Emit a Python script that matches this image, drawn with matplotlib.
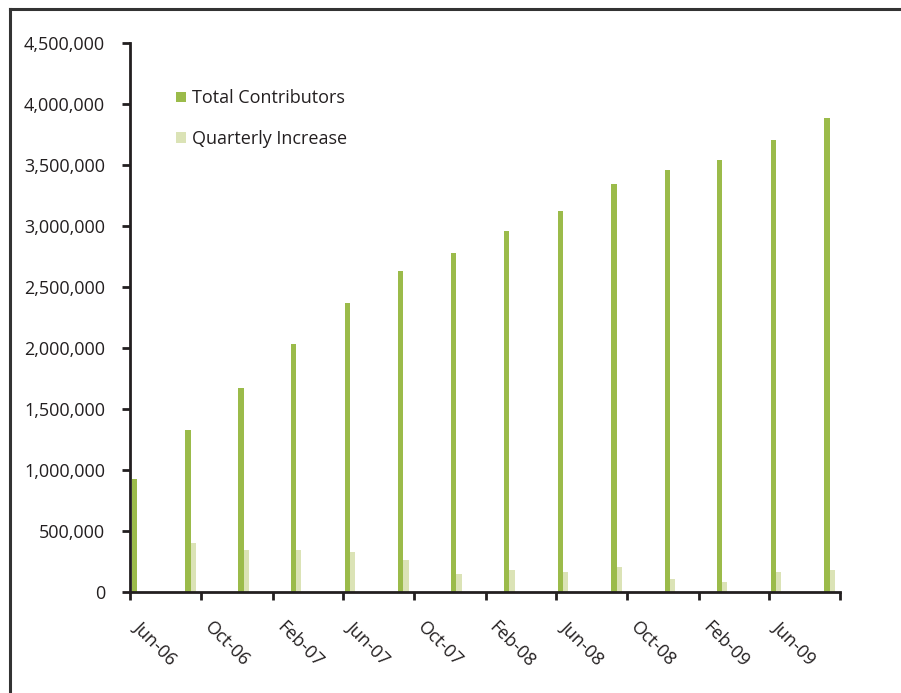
import datetime as dt
import matplotlib
matplotlib.use("Agg")
import matplotlib.pyplot as plt
import matplotlib.dates as mdates
from matplotlib.lines import Line2D
from matplotlib.ticker import FuncFormatter
from matplotlib.transforms import ScaledTranslation

plt.rcParams['font.family'] = ['Open Sans', 'DejaVu Sans']

# quarterly data points (year, month)
quarters = [(2006, 6), (2006, 9), (2006, 12), (2007, 3), (2007, 6), (2007, 9), (2007, 12),
            (2008, 3), (2008, 6), (2008, 9), (2008, 12), (2009, 3), (2009, 6), (2009, 9)]
total_contributors = [926000, 1328000, 1672000, 2033000, 2369000, 2631000, 2779000,
                      2959000, 3123000, 3344000, 3459000, 3541000, 3705000, 3885000]
quarterly_increase = [0, 399000, 344000, 344000, 328000, 262000, 148000,
                      180000, 164000, 205000, 107000, 82000, 164000, 180000]
tick_months = [(2006, 6), (2006, 10), (2007, 2), (2007, 6), (2007, 10), (2008, 2),
               (2008, 6), (2008, 10), (2009, 2), (2009, 6), (2009, 10)]
tick_labels = ['Jun-06', 'Oct-06', 'Feb-07', 'Jun-07', 'Oct-07', 'Feb-08',
               'Jun-08', 'Oct-08', 'Feb-09', 'Jun-09', '']

green = '#9bbb4a'
light = '#dbe3b6'
dark = '#231f20'

fig = plt.figure(figsize=(9.01, 6.93), dpi=100)
ax = fig.add_axes([130 / 901, 101 / 693, 710 / 901, 549 / 693])

dates = [mdates.date2num(dt.date(y, m, 1)) for y, m in quarters]
ax.bar([d + 3 for d in dates], total_contributors, width=9, align='edge',
       color=green, label='Total Contributors')
ax.bar([d + 12 for d in dates], quarterly_increase, width=9, align='edge',
       color=light, label='Quarterly Increase')

ax.set_xlim(mdates.date2num(dt.date(2006, 6, 1)), mdates.date2num(dt.date(2009, 10, 1)))
ax.set_ylim(0, 4500000)
ax.set_yticks(range(0, 4500001, 500000))
ax.yaxis.set_major_formatter(FuncFormatter(lambda v, p: f'{int(v):,}'))
tick_pos = [mdates.date2num(dt.date(y, m, 1)) for y, m in tick_months]
ax.set_xticks(tick_pos)
ax.set_xticklabels([])

# rotated date labels hanging down-right from each tick
shift = ScaledTranslation(0.13, -0.26, fig.dpi_scale_trans)
for pos, lab in zip(tick_pos, tick_labels):
    ax.text(pos, 0, lab, transform=ax.get_xaxis_transform() + shift,
            rotation=-45, ha='left', va='top', rotation_mode='anchor',
            fontsize=13, color=dark)

for s in ['top', 'right']:
    ax.spines[s].set_visible(False)
for s in ['left', 'bottom']:
    ax.spines[s].set_linewidth(2.0)
    ax.spines[s].set_color(dark)
ax.tick_params(axis='both', length=6, width=2.0, color=dark, labelsize=13,
               labelcolor=dark)
ax.tick_params(axis='y', pad=12)

ax.legend(loc='upper left', bbox_to_anchor=(0.052, 0.932), frameon=False,
          fontsize=13, handlelength=0.55, handleheight=0.55, handletextpad=0.35,
          labelspacing=1.27, borderpad=0, labelcolor=dark)

# outer frame (top and left edges visible)
fig.add_artist(Line2D([10 / 901, 1.0], [1 - 8.5 / 693, 1 - 8.5 / 693],
                      transform=fig.transFigure, color='#333333', lw=2.2))
fig.add_artist(Line2D([10 / 901, 10 / 901], [0, 1 - 8.5 / 693],
                      transform=fig.transFigure, color='#333333', lw=2.2))

fig.savefig('out.png', dpi=100)
